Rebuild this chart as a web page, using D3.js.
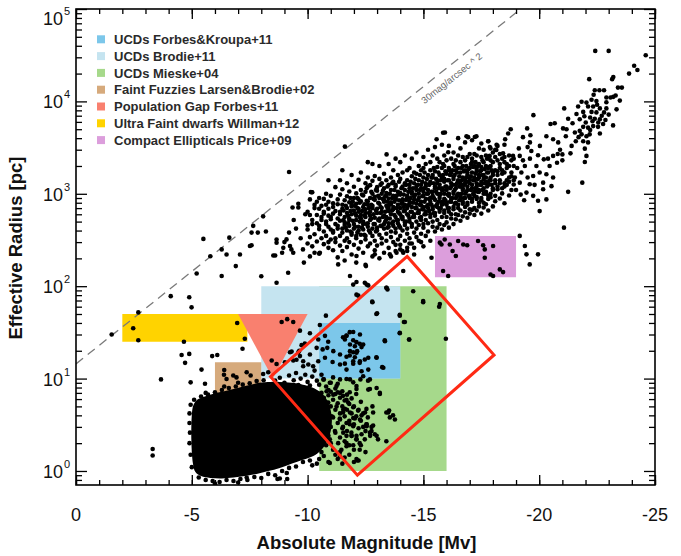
<!DOCTYPE html>
<html><head><meta charset="utf-8">
<script src="https://cdn.jsdelivr.net/npm/d3@7"></script>
<style>
body{margin:0;background:#fff}
svg{display:block}
text{font-family:"Liberation Sans",Arial,Helvetica,sans-serif}
</style>
</head><body>
<svg id="chart" width="681" height="556"></svg>
<script>
// ---------------- DATA ----------------
const xTickValues = [0, -5, -10, -15, -20, -25];
const xTickLabels = ["0", "-5", "-10", "-15", "-20", "-25"];
const yTickValues = [1, 10, 100, 1000, 10000, 100000];
const yTickExponents = ["0", "1", "2", "3", "4", "5"];

const legendNames = ["UCDs Forbes&Kroupa+11", "UCDs Brodie+11", "UCDs Mieske+04",
  "Faint Fuzzies Larsen&Brodie+02", "Population Gap Forbes+11",
  "Ultra Faint dwarfs Willman+12", "Compact Ellipticals Price+09"];
const legendColors = ["#7cc7ea", "#c5e4f0", "#a6d98b", "#d6aa7c", "#f9806f", "#ffd300", "#dc9edc"];

// regions [Mv, Re]
const regionMieske = [[-10.5, 1], [-16, 1], [-16, 100], [-10.5, 100]];
const regionBrodie = [[-8, 10], [-14, 10], [-14, 100], [-8, 100]];
const regionForbesKroupa = [[-10.5, 10], [-14, 10], [-14, 40], [-10.5, 40]];
const regionUltraFaint = [[-2, 25], [-7.4, 25], [-7.4, 50], [-2, 50]];
const regionFaintFuzzies = [[-6, 7], [-8, 7], [-8, 15], [-6, 15]];
const regionPopGap = [[-7, 50], [-10, 50], [-8.5, 10]];
const regionCompactE = [[-15.5, 125], [-19, 125], [-19, 350], [-15.5, 350]];
const highlightBox = [[-8.4, 10.5], [-14.3, 210], [-18.05, 18], [-12.15, 0.9]];
const surfaceBrightnessLine = [[0, 14.4], [-19.2, 100000]];
const lineLabelPos = [-16.22, 17800];

// dense globular-cluster blob outline [Mv, Re]
const blobOutline = [[-5.2,5.8],[-5.05,5.0],[-5.0,4.0],[-4.98,3.0],[-4.98,2.2],[-5.0,1.6],[-5.05,1.2],[-5.15,0.98],
  [-5.4,0.88],[-5.8,0.84],[-6.3,0.83],[-6.8,0.85],[-7.3,0.88],[-7.8,0.93],[-8.3,1.0],[-8.8,1.08],[-9.3,1.2],
  [-9.8,1.32],[-10.25,1.45],[-10.6,1.7],[-10.85,2.1],[-11.0,2.7],[-11.05,3.5],[-11.0,4.5],[-10.85,5.8],
  [-10.6,7.0],[-10.2,8.0],[-9.8,8.6],[-9.3,9.0],[-8.8,9.2],[-8.4,9.2],[-7.9,9.0],[-7.4,8.4],[-6.8,7.7],
  [-6.3,7.2],[-5.9,6.8],[-5.5,6.3]];
const blobEdge = [[-4.95,5.2],[-4.9,4.2],[-4.9,3.3],[-4.92,2.6],[-4.9,2.0],[-4.95,1.5],[-5.0,1.1],[-5.1,5.9],
  [-5.3,0.85],[-5.6,0.8],[-5.9,0.78],[-6.2,0.76],[-6.5,0.8],[-6.8,0.78],[-7.1,0.82],[-7.4,0.8],[-7.7,0.86],
  [-8.0,0.84],[-8.3,0.93],[-8.6,0.9],[-8.9,1.0],[-9.2,1.08],[-9.5,1.12],[-9.8,1.25],[-10.1,1.3],[-6.0,0.73],
  [-7.0,0.75],[-8.7,0.82],[-9.1,0.95],[-7.37,0.85],[-8.8,0.83],[-9.12,0.82],
  [-5.4,6.4],[-5.7,6.7],[-6.0,7.1],[-6.3,7.5],[-6.6,7.9],[-6.9,8.2],[-7.2,8.6],[-7.5,8.9],[-7.8,9.4],
  [-8.1,9.6],[-5.6,7.0],[-6.4,8.2],[-7.0,9.0]];

// transition zone right of the blob and UCD regions [Mv, Re]
const ucdPoints = [[-8.6,9.5],[-8.8,10.2],[-9.0,9.0],[-9.2,10.8],[-9.4,9.6],[-9.5,11.5],[-9.7,10.0],[-9.9,11.0],
  [-10.0,9.2],[-10.2,10.5],[-10.3,12.2],[-10.1,8.4],[-9.6,8.5],[-9.3,8.2],[-8.9,8.6],[-10.4,9.5],[-10.6,11],
  [-10.5,8.6],[-10.7,9.8],[-10.8,8.2],[-11.0,9.0],[-11.1,10.3],[-10.9,7.5],[-11.2,7.8],[-11.3,8.8],[-11.4,9.8],
  [-10.6,7.0],[-10.7,6.2],[-10.8,5.5],[-10.9,6.6],[-11.0,5.0],[-11.0,7.2],[-11.1,5.9],[-11.2,6.8],[-11.2,4.6],
  [-11.3,5.4],[-11.3,7.1],[-11.4,6.2],[-11.4,4.2],[-11.5,5.0],[-11.5,7.3],[-11.6,5.8],[-11.6,3.9],[-11.7,6.7],
  [-11.7,4.6],[-11.8,5.3],[-11.8,3.5],[-11.9,6.1],[-11.9,4.2],[-12.0,5.0],[-12.0,3.2],[-12.1,6.8],[-12.1,3.9],
  [-12.2,4.6],[-12.2,2.9],[-12.3,5.6],[-12.3,3.5],[-12.4,4.2],[-12.5,2.7],[-12.6,3.8],[-12.7,2.4],[-12.8,5.0],
  [-10.8,4.2],[-10.9,3.6],[-11.0,3.0],[-11.1,3.8],[-11.2,2.6],[-11.3,3.3],[-11.4,2.3],[-11.5,2.9],[-11.6,2.1],
  [-11.7,2.7],[-11.8,1.9],[-11.9,2.4],[-12.0,1.7],[-12.1,2.2],[-12.3,1.9],[-12.5,1.6],[-10.9,2.4],[-11.0,2.0],
  [-11.1,1.7],[-11.2,1.5],[-11.3,1.35],[-10.8,1.9],[-10.6,1.6],[-10.7,1.45],[-10.5,1.35],[-11.4,1.6],[-11.6,1.4],
  [-11.5,1.2],[-12.2,1.3],[-12.0,1.25],[-11.8,1.5],[-10.9,1.25],[-10.4,1.2],[-10.2,1.15],
  [-10.68,9.8],[-10.96,9],[-11.25,8.3],[-10.82,7.3],[-11.11,6.7],[-11.4,7.0],[-11.68,5.9],[-10.89,5.5],
  [-11.25,5.0],[-11.54,4.6],[-11.83,4.3],[-11.04,3.9],[-11.4,3.6],[-11.68,3.3],[-11.97,3.05],[-10.82,2.9],
  [-11.18,2.7],[-11.54,2.6],[-11.9,2.4],[-10.96,2.2],[-11.32,2.0],[-11.68,1.85],[-12.12,2.2],[-12.33,2.5],
  [-12.55,3.05],[-11.97,3.75],[-12.26,3.6],[-12.48,4.3],[-12.76,2.7],[-12.98,2.4],[-10.96,1.22],[-11.4,1.44],
  [-12.69,9.8],[-12.98,7.9],[-12.33,12],
  [-11.68,9.9],[-11.97,9.1],[-12.28,9.8],[-12.61,9.5],[-12.69,7.7],[-13.12,6.8],[-12.11,7.7],[-11.82,7.1],
  [-11.53,6.5],[-11.75,5.5],[-11.61,4.7],[-11.97,4.9],[-12.18,4.5],[-12.33,4.0],[-12.04,3.7],[-11.82,3.2],
  [-11.53,3.0],[-11.89,2.6],[-12.11,2.4],[-12.25,2.0],[-12.47,2.2],[-12.69,2.6],[-12.9,2.5],[-13.04,2.2],
  [-13.4,2.1],[-13.52,4.5],[-13.69,4.0],[-13.4,4.3],[-12.54,3.2],[-12.76,3.0],[-11.68,2.0],[-11.46,1.7],
  [-12.11,1.35],[-12.25,1.7],[-11.97,1.9],[-11.68,2.4],[-12.4,3.0],[-12.54,4.7],[-12.83,4.3],[-11.39,3.7],
  [-11.53,4.3],[-12.14,1.3],
  [-10.53,38],[-10.75,29],[-10.89,25],[-10.46,26.5],[-10.39,21.5],[-10.65,20.7],[-10.85,21.5],[-11.11,19.8],
  [-10.75,16.8],[-11.08,15.1],[-11.4,18.2],[-11.61,26.5],[-11.68,29.3],[-11.97,31.9],[-12.26,30],[-11.83,23.4],
  [-12.04,22.4],[-12.4,23.4],[-12.14,19.8],[-11.83,19.8],[-11.68,17.2],[-11.97,15.4],[-12.26,15.4],[-12.47,16.1],
  [-12.62,16.8],[-11.4,14.2],[-11.68,12.5],[-12.62,12.5],[-12.4,10.6],[-12.98,16.8],[-13.27,13.1],[-13.34,25.4],
  [-13.98,31.3],[-14.39,26.5],[-11.83,9.8],[-12.11,8.3],[-12.62,7.6],[-13.12,7.0],[-13.48,4.3],[-13.55,3.8],
  [-13.77,3.6],[-12.55,3.2],[-12.83,3.1],[-9.52,16],[-9.81,15.4],[-10.03,14.2],[-10.24,13.6],[-10.46,15.4],
  [-9.81,13.6],[-9.67,17.5],[-10.1,18.2],
  [-11.53,28],[-11.68,29],[-11.82,31.8],[-11.97,26],[-12.11,24.8],[-12.25,23.8],[-12.33,21.9],[-11.97,19.3],
  [-12.11,19],[-11.82,17.8],[-12.04,17],[-12.25,14.8],[-11.61,14.5],[-11.97,14.5],
  [-13.98,48],[-14.2,41],[-13.98,31],[-14.38,26.5],[-14.99,67],[-15.68,60],[-15.97,27],[-12.79,68],[-12.97,50],
  [-13.33,26],[-12.97,17],[-13.22,13.3],[-13.4,96],[-13.45,92]];

// scattered faint objects and outliers [Mv, Re]
const sparsePoints = [[-1.54,30],[-2.47,35],[-2.69,52],[-2.69,26],[-4.09,78],[-4.89,76],[-4.99,59],[-6.96,40],
  [-7.29,27],[-7.19,21],[-4.66,25],[-4.56,18],[-4.89,18.5],[-4.71,14.8],[-5.88,17.5],[-6.1,18],[-5.42,12.5],
  [-3.67,9.8],[-4.95,9.1],[-5.57,8.8],[-6.4,12.4],[-6.39,11],[-6.79,10.8],[-6.93,10.3],[-6.5,9.9],[-7.37,11.7],
  [-7.54,10.8],[-3.31,1.73],[-3.31,1.47],
  [-9.12,44],[-9.38,41],[-8.88,41],[-9.67,33],[-9.24,19.3],[-9.6,19.3],[-9.38,15.7],[-9.02,15],[-8.66,14.4],
  [-8.45,15.7],[-8.3,11.7],[-8.08,11.2],[-9.88,24],[-10.1,31],[-9.74,23],[-9.64,20],[-9.31,19.6],
  [-9.2,1720],[-10.17,1040],[-9.35,710],[-9.6,710],[-8.08,570],[-7.65,450],[-7.85,380],[-8.2,390],[-6.62,335],
  [-5.5,325],[-5.8,211],[-6.29,250],[-6.5,220],[-7.08,220],[-6.9,165],[-7.58,277],[-8.66,320],[-9.0,300],
  [-8.95,260],[-9.38,230],[-8.6,215],[-8.9,230],[-9.16,140],[-9.84,180],[-5.21,137],[-6.29,129],[-8.0,128],
  [-8.66,109],[-7.58,380],[-7.51,272],[-8.66,295],[-9.09,321],[-9.24,272],[-8.52,215],[-10.53,230],
  [-11.32,172],[-11.83,129],[-12.11,81],[-12.55,104],[-12.52,165],[-12.11,212],[-12.9,221],[-13.55,221],
  [-13.84,230],[-14.13,230],[-14.13,146],[-14.56,88],[-14.99,69],[-15.71,64],[-15.35,203],[-15.78,283],
  [-11.61,3240],[-10.14,1045],[-12.19,79],[-11.97,104],[-12.11,111],[-12.47,109],[-12.62,102],[-13.41,96],
  [-12.8,67],[-13.0,51],[-10.79,48],[-13.98,49],[-14.16,41],[-14.0,250],[-14.3,240],[-14.6,260],[-14.4,290],
  [-13.8,280],[-14.9,300],[-13.41,2670],[-15.57,3890],[-16.07,2820],
  [-9.3,250],[-9.5,420],[-9.7,330],[-9.9,600],[-9.4,520],[-9.8,250],[-10.0,290],[-9.6,780],[-9.2,380],
  [-10.2,270],[-10.3,230],[-10.1,210],[-10.9,1400],[-11.5,1800],[-12.6,2200],
  [-15.71,296],[-15.92,320],[-16.14,283],[-16.5,308],[-16.72,283],[-16.89,277],[-17.36,308],[-17.58,277],
  [-18.01,272],[-16.4,212],[-16.26,240],[-17.65,203],[-17.65,250],[-18.3,152],[-18.44,142],[-17.9,134],
  [-18.01,129],[-16.07,129],[-15.85,146],[-19.16,350],[-19.38,272],[-19.45,221],[-19.95,221],[-19.59,172]];

// main galaxy sequence, read column by column: [Mv, [Re ...]]
const cloudColumns = [
  [-10.0,[410,455,640]],[-10.1,[340,590,870]],[-10.2,[470,520,1040]],[-10.3,[365,700,760]],
  [-10.4,[305,480,590,820]],[-10.5,[225,415,450,690,900]],[-10.6,[330,520,560,740]],
  [-10.7,[285,390,610,640,880]],[-10.8,[350,470,500,760,1000]],[-10.9,[260,300,440,580,690,820]],
  [-11.0,[320,410,530,560,950]],[-11.1,[245,380,395,610,720,790]],[-11.2,[300,330,470,650,1180]],
  [-11.3,[205,420,450,540,770,870]],[-11.4,[275,350,510,600,640,980,1400]],[-11.5,[240,380,420,690,760,1120]],
  [-11.6,[190,310,460,490,560,850]],[-11.7,[265,330,400,620,700,940,1300]],[-11.8,[300,450,520,540,810,1060]],
  [-11.9,[220,360,380,600,730,760,1600]],[-12.0,[280,420,470,660,900,1190]],[-12.1,[180,330,350,520,580,780,1010]],
  [-12.2,[255,400,440,640,690,870,1420]],[-12.3,[300,360,540,590,830,1100,1700]],[-12.4,[230,410,470,500,720,960]],
  [-12.5,[170,320,350,560,620,680,1050,1300]],[-12.6,[270,440,480,760,830,1200,1500]],
  [-12.7,[290,380,520,580,640,900,1240]],[-12.8,[210,350,420,700,740,1000,1380,2100]],
  [-12.9,[245,310,470,550,860,930,1560]],[-13.0,[275,400,430,620,690,1080,1180]],
  [-13.1,[200,360,510,540,780,900,1450,2000]],[-13.2,[290,330,450,640,700,1000,1300]],
  [-13.3,[230,420,470,580,820,860,1150,1650]],[-13.4,[310,370,530,560,740,960,1020,1400]],
  [-13.5,[260,440,480,650,700,890,1250,2100]],[-13.6,[210,340,390,600,780,810,1100,1500]],
  [-13.7,[300,450,500,680,720,950,1350,1800]],[-13.8,[240,380,420,560,870,900,1200,1250,2400]],
  [-13.9,[320,480,520,640,760,1050,1600]],[-14.0,[280,350,430,600,700,980,1020,1450,2200]],
  [-14.1,[240,400,530,560,820,870,1200,1700]],[-14.2,[310,460,490,650,760,1100,1300,2600]],
  [-14.3,[260,370,420,600,700,900,950,1400,1800]],[-14.4,[330,500,540,780,830,1150,1250,1900]],
  [-14.5,[290,440,470,640,720,1000,1050,1550,2400]],[-14.6,[220,380,560,600,860,940,1300,1700]],
  [-14.7,[340,420,500,700,780,1100,1200,1650,2800]],[-14.8,[310,460,620,660,900,1000,1400,2000]],
  [-14.9,[370,520,560,750,820,1150,1250,1800]],[-15.0,[270,430,470,680,720,960,1050,1500,1900,2500]],
  [-15.1,[350,520,600,640,880,1200,1300,2100]],[-15.2,[390,480,700,760,1000,1100,1600,3000]],
  [-15.3,[310,560,600,820,900,1300,1350,1800,2200]],[-15.4,[440,500,680,720,950,1050,1500,1600,2600]],
  [-15.5,[390,580,620,860,1150,1200,1750,3200]],[-15.6,[430,520,720,780,1000,1300,1400,1950,2400]],
  [-15.7,[470,640,680,900,960,1250,1600,2200]],[-15.8,[410,560,760,820,1100,1150,1500,1900,3400]],
  [-15.9,[460,620,660,880,1000,1350,1450,2000,2600]],[-16.0,[490,560,760,800,1100,1200,1650,2300]],
  [-16.1,[430,640,700,950,1000,1400,1800,1900,3300]],[-16.2,[540,600,820,880,1200,1300,1700,2400]],
  [-16.3,[470,680,720,1000,1050,1450,1550,2100,2800]],[-16.4,[530,600,800,900,1150,1250,1800,2300]],
  [-16.5,[590,700,760,1000,1350,1400,1900,2600]],[-16.6,[510,660,860,920,1200,1300,1700,2200,3100]],
  [-16.7,[570,780,820,1100,1150,1500,2000,2500]],[-16.8,[630,720,900,1000,1300,1400,1800,2300,3600]],
  [-16.9,[550,760,800,1100,1200,1600,1700,2500]],[-17.0,[610,680,900,950,1300,1450,1900,2700]],
  [-17.1,[670,820,880,1150,1250,1700,2200,2400,3800]],[-17.2,[590,700,950,1050,1400,1500,2000,2700]],
  [-17.3,[660,880,920,1200,1300,1750,1850,2600]],[-17.4,[730,800,1050,1100,1500,1600,2100,3100]],
  [-17.5,[610,850,900,1250,1350,1800,1950,2500,3500]],[-17.6,[710,800,1000,1150,1450,1600,2200,3000]],
  [-17.7,[770,1000,1050,1350,1500,2000,2600]],[-17.8,[660,880,950,1250,1300,1700,1900,2500,3700]],
  [-17.9,[920,1000,1400,1500,2000,2300,3100]],[-18.0,[730,1100,1150,1600,1700,2200,2800]],
  [-18.1,[830,950,1300,1400,1800,2500,3000]],[-18.2,[1120,1200,1600,1750,2300,3300]],
  [-18.3,[890,1300,1400,1900,2100,2700]],[-18.4,[1010,1150,1650,1800,2400]],
  [-18.5,[790,1200,1300,1700,2200,2500,3400]],[-18.6,[1250,1400,1900,2100]],
  [-18.7,[960,1350,1500,2000,2600]],[-18.8,[1100,1550,1700,2300]],[-18.9,[1260,1400,2000,2400]]
];

// densest ridge of the galaxy sequence: [Mv, [Re ...]]
const cloudCore = [
  [-11.55,[520,660]],[-11.65,[430,740]],[-11.75,[480,580]],[-11.85,[390,650,900]],[-11.95,[510,820]],
  [-12.05,[440,610,740]],[-12.15,[380,700,900]],[-12.25,[500,560,800]],[-12.35,[430,650,980]],
  [-12.45,[360,580,770]],[-12.55,[470,840,1150]],[-12.65,[400,620,700]],[-12.75,[540,760,1050]],
  [-12.85,[470,600,880]],[-12.95,[390,660,1100]],[-13.05,[520,800,950]],[-13.15,[450,620,720,1250]],
  [-13.25,[560,880,1080]],[-13.35,[500,640,940]],[-13.45,[430,700,820,1200]],[-13.55,[540,760,1000]],
  [-13.65,[480,660,900,1300]],[-13.75,[590,820,1100]],[-13.85,[520,700,960]],[-13.95,[450,620,850,1350]],
  [-14.05,[560,780,1150]],[-14.15,[650,720,980]],[-14.25,[500,860,1250]],[-14.35,[580,750,1050]],
  [-14.45,[640,900,1350]],[-14.55,[560,800,1150]],[-14.65,[700,980,1450]],[-14.75,[620,850,1250]],
  [-14.85,[550,760,1100,1600]],[-14.95,[680,940,1350]],[-15.05,[600,820,1150,1700]],[-15.15,[730,1000,1450]],
  [-15.25,[650,880,1250]],[-15.35,[760,1050,1500]],[-15.45,[620,900,1300,1900]],[-15.55,[740,1050,1450]],
  [-15.65,[820,1150,1700]],[-15.75,[700,1000,1400]],[-15.85,[780,1100,1600,2100]],[-15.95,[850,1200,1750]],
  [-16.05,[700,980,1400]],[-16.15,[820,1150,1600]],[-16.25,[900,1250,1800]],[-16.35,[780,1100,1600,2000]],
  [-16.45,[950,1300,1700]],[-16.55,[850,1200,1550]],[-16.65,[1000,1400,1900]],[-16.75,[900,1250,1750]],
  [-16.85,[1050,1500,2000]],[-16.95,[950,1350,1850]],[-17.05,[1100,1550,2100]],[-17.15,[1000,1400,1950]],
  [-17.25,[1150,1650,2200]],[-17.35,[1050,1450,2000]],[-17.45,[1250,1750]],[-17.55,[1100,1600,2300]],
  [-17.65,[1300,1850]],[-17.75,[1200,1700,2400]],[-17.85,[1400,1950]],[-17.95,[1250,1800]]
];

// bright end of the sequence and the giant-galaxy tail [Mv, Re]
const tailPoints = [[-22.42,35200],[-23.0,35200],[-24.6,31600],[-24.1,24300],[-24.24,21900],[-23.88,20000],
  [-23.2,18400],[-23.15,17400],[-22.16,17400],[-23.57,14100],[-23.4,14100],[-22.4,13200],[-22.6,13200],
  [-22.8,13200],[-22.9,11000],[-23.08,11000],[-23.2,11200],[-23.3,11600],[-23.48,10200],[-22.26,10400],
  [-22.47,10100],[-21.83,9900],[-22.04,9700],[-21.68,8800],[-22.11,8800],[-22.33,8800],[-22.62,8400],
  [-22.9,8400],[-22.26,7700],[-22.47,7600],[-22.8,7600],[-21.9,7700],[-21.61,7300],[-22.2,6700],[-22.4,6500],
  [-22.62,6400],[-22.86,6300],[-21.75,6400],[-22.01,5900],[-21.9,5300],[-22.11,5200],[-22.33,5400],
  [-22.54,5300],[-22.76,5700],[-23.19,5500],[-23.34,8200],[-21.08,8400],[-19.75,7100],[-21.25,6500],
  [-21.44,5800],[-21.03,5100],[-21.18,5000],[-21.54,4600],[-21.75,4800],[-21.83,4400],[-22.04,4200],
  [-22.18,4400],[-22.62,4500],[-21.58,3700],[-21.9,3700],[-22.11,3600],[-21.15,4200],[-20.82,3600],
  [-20.67,5800],[-20.49,5700],[-20.31,4200],[-19.48,5100],[-19.3,4100],[-19.62,4300],[-19.6,3600],
  [-20.03,3300],[-18.77,5000],[-18.66,4500],[-18.53,3900],[-18.16,3400],[-17.8,3700],[-17.87,3200],
  [-17.29,4200],[-16.93,4100],[-16.5,4000],[-15.93,4600],[-19.12,3100],[-19.5,3200],
  [-22.5,9200],[-22.7,7000],[-22.3,6100],[-21.95,6900],[-22.55,5900],[-22.2,4900],[-21.7,4100],[-22.9,9800],
  [-23.0,7200],[-22.35,11800],[-21.4,3300],[-20.9,3000],[-20.6,3900],[-21.0,2300],[-20.8,2700],
  [-17.86,2570],[-18.15,2980],[-18.44,2740],[-18.87,2570],[-19.16,2570],[-19.66,2900],[-19.95,2610],
  [-20.2,2360],[-20.38,2400],[-20.6,2570],[-20.77,2170],[-20.45,2000],[-20.31,1630],[-20.6,1500],
  [-20.53,1210],[-20.02,1700],[-20.17,1320],[-19.88,2000],[-19.74,1560],[-19.59,1270],[-19.38,2000],
  [-19.23,1700],[-19.16,1320],[-19.45,1030],[-19.74,950],[-19.95,840],[-20.02,650],[-20.31,870],
  [-20.17,1120],[-21.25,1050],[-21.86,1320],[-21.07,430],[-22.04,2570],[-21.97,2210],[-21.0,2670],
  [-21.35,2740],[-21.97,3080],[-19.05,1900],[-19.3,2300],[-19.5,1500],[-19.8,1250],[-19.0,1100],
  [-19.35,850],[-19.6,2400],[-18.95,1500],[-19.2,980],[-15.85,4570],[-16.86,4200],[-17.22,4120]];

// ---------------- CHART ----------------
const svg = d3.select("#chart");
const x = d3.scaleLinear().domain([0, -25]).range([76, 655]);
const y = d3.scaleLog().domain([0.705, 100000]).range([485, 9]);
const [x0, x1] = x.range();
const [y0, y1] = y.range();

svg.append("defs").append("clipPath").attr("id", "plotclip")
  .append("rect").attr("x", x0).attr("y", y1).attr("width", x1 - x0).attr("height", y0 - y1);

const plot = svg.append("g").attr("clip-path", "url(#plotclip)");
const line = d3.line().x(d => x(d[0])).y(d => y(d[1]));
const poly = pts => line(pts) + "Z";

[[regionMieske, 2], [regionBrodie, 1], [regionForbesKroupa, 0], [regionUltraFaint, 5],
 [regionFaintFuzzies, 3], [regionPopGap, 4], [regionCompactE, 6]].forEach(([pts, ci]) => {
  plot.append("path").attr("d", poly(pts)).attr("fill", legendColors[ci]);
});

plot.append("path").attr("d", line(surfaceBrightnessLine))
  .attr("fill", "none").attr("stroke", "#7a7a7a").attr("stroke-width", 1.3).attr("stroke-dasharray", "9,6");

plot.append("path").attr("d", d3.line().curve(d3.curveCardinalClosed).x(d => x(d[0])).y(d => y(d[1]))(blobOutline))
  .attr("fill", "#000");

const expand = cols => cols.flatMap(([m, rs]) => rs.map(r => [m, r]));
const allPoints = [].concat(expand(cloudColumns), expand(cloudCore), tailPoints, sparsePoints, ucdPoints, blobEdge);
plot.append("g").selectAll("circle").data(allPoints).join("circle")
  .attr("cx", d => x(d[0])).attr("cy", d => y(d[1])).attr("r", 2.3).attr("fill", "#000");

plot.append("path").attr("d", poly(highlightBox))
  .attr("fill", "none").attr("stroke", "#ff2a14").attr("stroke-width", 3).attr("stroke-linejoin", "miter");

const ang = Math.atan2(y(surfaceBrightnessLine[1][1]) - y(surfaceBrightnessLine[0][1]),
                       x(surfaceBrightnessLine[1][0]) - x(surfaceBrightnessLine[0][0])) * 180 / Math.PI;
svg.append("text").attr("transform", `translate(${x(lineLabelPos[0])},${y(lineLabelPos[1])}) rotate(${ang})`)
  .attr("text-anchor", "middle").attr("dy", "0.35em").attr("font-size", 9.5).attr("fill", "#666")
  .text("30mag/arcsec ^ 2");

svg.append("rect").attr("x", x0).attr("y", y1).attr("width", x1 - x0).attr("height", y0 - y1)
  .attr("fill", "none").attr("stroke", "#000").attr("stroke-width", 1.6);

const xMinor = d3.range(0, -25.5, -1);
const yMinor = [];
[0.1, 1, 10, 100, 1000, 10000].forEach(d => { for (let k = 2; k <= 9; k++) { const v = d * k; if (v > 0.705 && v < 100000) yMinor.push(v); } });

function tickGroup(axisFn, scale, vals, size, tr) {
  const g = svg.append("g").attr("transform", tr)
    .call(axisFn(scale).tickValues(vals).tickSize(size).tickSizeOuter(0).tickFormat(""));
  g.select(".domain").remove();
  g.selectAll("line").attr("stroke", "#000").attr("stroke-width", 1.3);
  return g;
}
tickGroup(d3.axisBottom, x, xMinor, -5, `translate(0,${y0})`);
tickGroup(d3.axisBottom, x, xTickValues, -10, `translate(0,${y0})`);
tickGroup(d3.axisTop, x, xMinor, -5, `translate(0,${y1})`);
tickGroup(d3.axisTop, x, xTickValues, -10, `translate(0,${y1})`);
tickGroup(d3.axisLeft, y, yMinor, -6, `translate(${x0},0)`);
tickGroup(d3.axisLeft, y, yTickValues, -11, `translate(${x0},0)`);
tickGroup(d3.axisRight, y, yMinor, -6, `translate(${x1},0)`);
tickGroup(d3.axisRight, y, yTickValues, -11, `translate(${x1},0)`);

svg.append("g").selectAll("text").data(xTickValues).join("text")
  .attr("x", d => x(d)).attr("y", 521).attr("text-anchor", "middle")
  .attr("font-size", 18).attr("fill", "#111").text((d, i) => xTickLabels[i]);

const labelBase = d => Math.max(y(d) + 7, 25);
const yl = svg.append("g").selectAll("g").data(yTickValues).join("g");
yl.append("text").attr("x", 63).attr("y", labelBase).attr("text-anchor", "end")
  .attr("font-size", 18).attr("fill", "#111").text("10");
yl.append("text").attr("x", 64).attr("y", d => labelBase(d) - 10).attr("font-size", 11).attr("fill", "#111")
  .text((d, i) => yTickExponents[i]);

svg.append("text").attr("x", (x0 + x1) / 2 + 1).attr("y", 549).attr("text-anchor", "middle")
  .attr("font-size", 18.5).attr("font-weight", "bold").attr("fill", "#111").text("Absolute Magnitude [Mv]");
svg.append("text").attr("transform", `translate(22,${(y0 + y1) / 2 + 1}) rotate(-90)`).attr("text-anchor", "middle")
  .attr("font-size", 18.5).attr("font-weight", "bold").attr("fill", "#111").text("Effective Radius [pc]");

const lg = svg.append("g").selectAll("g").data(legendNames).join("g")
  .attr("transform", (d, i) => `translate(97,${39.3 + i * 16.8})`);
lg.append("rect").attr("x", 0).attr("y", -4).attr("width", 8).attr("height", 8)
  .attr("fill", (d, i) => legendColors[i]);
lg.append("text").attr("x", 17).attr("y", 4.6).attr("font-size", 13).attr("font-weight", "bold")
  .attr("fill", "#2a2a2a").text(d => d);
</script>
</body></html>
